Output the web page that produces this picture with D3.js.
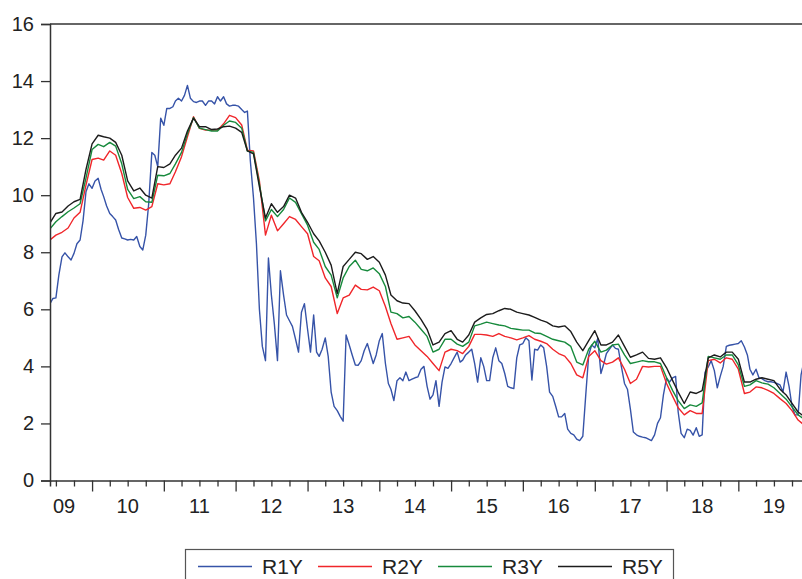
<!DOCTYPE html>
<html>
<head>
<meta charset="utf-8">
<script src="https://cdn.jsdelivr.net/npm/d3@7"></script>
<style>
  body { margin: 0; background: #fff; }
  svg { display: block; }
  text { font-family: "Liberation Sans", Arial, sans-serif; fill: #222; }
</style>
</head>
<body>
<svg id="chart" width="802" height="579"></svg>
<script>
// dates: monthly for R2Y/R3Y/R5Y, half-monthly for R1Y (starts June 2009)
var months = d3.range(127).map(function (i) { return new Date(2009, 5 + i, 1); });
var halfMonths = d3.range(253).map(function (j) { return new Date(2009, 5 + Math.floor(j / 2), j % 2 ? 16 : 1); });

var yearLabels = ["09", "10", "11", "12", "13", "14", "15", "16", "17", "18", "19"];
var yTicks = [0, 2, 4, 6, 8, 10, 12, 14, 16];
var seriesNames = ["R1Y", "R2Y", "R3Y", "R5Y"];

var r1y = [
  6.2, 6.38, 6.4, 7.2, 7.84, 7.98, 7.84, 7.73, 7.96, 8.3,
  8.43, 9.1, 10.12, 10.4, 10.24, 10.5, 10.59, 10.2, 9.95, 9.62,
  9.36, 9.25, 9.13, 8.8, 8.5, 8.47, 8.43, 8.45, 8.43, 8.55,
  8.2, 8.08, 8.6, 9.7, 11.5, 11.4, 11.0, 12.7, 12.45, 13.04,
  13.04, 13.1, 13.3, 13.4, 13.3, 13.5, 13.85, 13.4, 13.28, 13.25,
  13.3, 13.3, 13.15, 13.3, 13.3, 13.2, 13.45, 13.3, 13.45, 13.2,
  13.12, 13.15, 13.15, 13.12, 13.0, 12.9, 12.95, 11.2, 9.9, 8.3,
  6.0, 4.7, 4.2, 7.8, 6.5, 5.5, 4.2, 7.35, 6.5, 5.8,
  5.6, 5.4, 4.95, 4.5, 5.9, 6.2, 5.3, 4.5, 5.8, 4.5,
  4.35, 4.6, 5.0, 4.35, 3.1, 2.6, 2.45, 2.25, 2.08, 5.1,
  4.75, 4.4, 4.05, 4.04, 4.2, 4.55, 4.8, 4.45, 4.1, 4.4,
  4.9, 5.15, 4.1, 3.4, 3.2, 2.8, 3.5, 3.6, 3.5, 3.8,
  3.5, 3.55, 3.6, 3.63, 3.9, 4.0, 3.3, 2.85, 3.0, 3.5,
  2.6, 3.45, 3.98, 3.93, 4.1, 4.3, 4.5, 4.15, 4.22, 4.4,
  4.5, 4.6, 4.1, 3.45, 4.3, 4.0, 3.5, 3.5, 4.3, 4.65,
  4.2, 4.1, 3.75, 3.3, 3.25, 3.22, 4.3, 4.75, 4.8, 5.0,
  4.9, 3.52, 4.6, 4.57, 4.75, 4.65, 4.0, 3.1, 2.95, 2.6,
  2.23, 2.23, 2.35, 1.8, 1.65, 1.6, 1.45, 1.4, 1.55, 3.0,
  4.4, 4.75, 4.65, 4.98, 3.75, 4.1, 4.45, 4.6, 4.75, 4.63,
  4.6, 4.0, 3.4, 3.2, 2.5, 1.7, 1.6, 1.55, 1.52, 1.5,
  1.45, 1.4, 1.6, 2.0, 2.2, 3.0, 3.6, 3.45, 3.6, 3.65,
  2.4, 1.65, 1.5, 1.8, 1.76, 1.59, 1.85, 1.55, 1.6, 3.8,
  3.98, 4.2, 3.85, 3.25, 3.65, 4.0, 4.7, 4.74, 4.76, 4.78,
  4.8, 4.9, 4.68, 4.4, 3.9, 3.7, 3.9, 3.6, 3.57, 3.5,
  3.46, 3.46, 3.44, 3.4, 3.35, 3.1, 3.8, 3.3, 2.6, 2.3,
  2.3, 3.7, 4.2
];

var r2y = [
  8.43, 8.6, 8.7, 8.85, 9.2, 9.4, 10.35, 11.25, 11.3, 11.23,
  11.55, 11.4, 10.76, 9.92, 9.54, 9.57, 9.48, 9.6, 10.4, 10.36,
  10.4, 10.82, 11.35, 12.05, 12.75, 12.34, 12.28, 12.28, 12.28, 12.5,
  12.8, 12.72, 12.46, 11.58, 11.55, 10.5, 8.6, 9.3, 8.75, 9.0,
  9.25, 9.15, 8.9, 8.65, 7.85, 7.7, 7.1, 6.8, 5.85, 6.4,
  6.5, 6.85, 6.7, 6.68, 6.78, 6.65, 6.1, 5.5, 4.95, 5.0,
  5.05, 4.75, 4.55, 4.35, 4.1, 3.85, 4.5, 4.6, 4.55, 4.45,
  4.7, 5.12, 5.12, 5.1, 5.05, 5.15, 5.05, 5.0, 4.93, 5.0,
  5.08, 4.95, 4.88, 4.8, 4.6, 4.45, 4.36, 4.1, 3.7, 3.6,
  4.35, 4.55, 4.2, 4.08, 4.15, 4.3, 3.9, 3.4, 3.55, 4.0,
  3.98, 4.0, 4.0, 3.4, 2.95, 2.55, 2.3, 2.45, 2.35, 2.35,
  4.2, 4.25, 4.12, 4.3, 4.25, 3.9, 3.05, 3.1, 3.28, 3.25,
  3.16, 3.05, 2.87, 2.7, 2.45, 2.12, 1.95
];

var r3y = [
  8.82, 9.07, 9.25, 9.42, 9.55, 9.7, 10.6, 11.6, 11.78, 11.7,
  11.85, 11.72, 11.1, 10.2, 9.88, 9.95, 9.77, 9.75, 10.7, 10.68,
  10.76, 11.1, 11.5, 12.15, 12.72, 12.35, 12.3, 12.25, 12.25, 12.45,
  12.6, 12.55, 12.35, 11.55, 11.5, 10.4, 9.1, 9.5, 9.25, 9.5,
  9.9, 9.75, 9.35, 8.95, 8.35, 8.1, 7.5, 7.2, 6.4, 7.1,
  7.5, 7.72, 7.4, 7.35, 7.45, 7.25, 6.8, 5.9, 5.85, 5.7,
  5.75, 5.55, 5.3, 5.05, 4.5, 4.6, 4.95, 4.95, 4.78, 4.7,
  4.85, 5.42, 5.48, 5.55, 5.5, 5.45, 5.42, 5.33, 5.3, 5.27,
  5.27, 5.17, 5.15, 5.05, 4.95, 4.9, 4.85, 4.7, 4.15, 4.05,
  4.6, 4.88, 4.5, 4.57, 4.75, 4.78, 4.4, 4.1, 4.15, 4.2,
  4.16, 4.16, 4.1, 3.6, 3.15, 2.8, 2.52, 2.65, 2.6, 2.72,
  4.35, 4.3, 4.25, 4.4, 4.4, 4.05, 3.3, 3.35, 3.5, 3.42,
  3.38, 3.25, 3.05, 2.85, 2.58, 2.3, 2.15
];

var r5y = [
  9.03, 9.36, 9.41, 9.62, 9.77, 9.85, 10.9, 11.8, 12.1, 12.05,
  12.0, 11.85, 11.4, 10.5, 10.15, 10.25, 10.0, 9.9, 11.0, 10.97,
  11.1, 11.4, 11.65, 12.25, 12.7, 12.4, 12.4, 12.3, 12.32, 12.4,
  12.42, 12.35, 12.2, 11.55, 11.45, 10.3, 9.2, 9.7, 9.4, 9.6,
  10.0, 9.9, 9.4, 9.05, 8.65, 8.4, 8.0, 7.55, 6.55, 7.5,
  7.75, 8.0, 7.95, 7.75, 7.85, 7.65, 7.2, 6.5, 6.3, 6.22,
  6.2, 5.95, 5.65, 5.3, 4.75, 4.85, 5.15, 5.25, 4.95, 4.85,
  5.1, 5.55, 5.7, 5.82, 5.85, 5.95, 6.03, 6.0, 5.9, 5.85,
  5.8, 5.72, 5.62, 5.55, 5.42, 5.38, 5.42, 5.22, 4.85, 4.55,
  4.9, 5.25, 4.75, 4.75, 4.85, 5.1, 4.7, 4.32, 4.4, 4.5,
  4.28, 4.25, 4.3, 3.95, 3.5, 3.1, 2.7, 3.1, 3.05, 3.15,
  4.3, 4.4, 4.33, 4.5, 4.5, 4.25, 3.45, 3.45, 3.55, 3.6,
  3.55, 3.5, 3.2, 3.0, 2.7, 2.4, 2.25
];

var colors = ["#3653a8", "#f0262a", "#178a3c", "#1c1c1c"];

var svg = d3.select("#chart");
var plotLeft = 50, plotTop = 24, plotRight = 804, plotBottom = 480.5;

var x = d3.scaleTime()
  .domain([new Date(2009, 5, 1), new Date(2019, 11, 1)])
  .range([plotLeft, plotRight]);
var y = d3.scaleLinear()
  .domain([0, 16])
  .range([plotBottom, plotTop]);

svg.append("clipPath").attr("id", "plotclip")
  .append("rect")
  .attr("x", plotLeft).attr("y", plotTop - 2)
  .attr("width", plotRight - plotLeft).attr("height", plotBottom - plotTop + 2);

// series
var data = [
  { name: "R1Y", dates: halfMonths, values: r1y },
  { name: "R2Y", dates: months, values: r2y },
  { name: "R3Y", dates: months, values: r3y },
  { name: "R5Y", dates: months, values: r5y }
];

var lines = svg.append("g").attr("clip-path", "url(#plotclip)");
data.forEach(function (s, k) {
  var line = d3.line()
    .x(function (d, i) { return x(s.dates[i]); })
    .y(function (d) { return y(d); });
  lines.append("path")
    .datum(s.values)
    .attr("fill", "none")
    .attr("stroke", colors[k])
    .attr("stroke-width", 1.4)
    .attr("stroke-linejoin", "round")
    .attr("d", line);
});

// frame top
svg.append("line")
  .attr("x1", plotLeft).attr("x2", 802)
  .attr("y1", plotTop).attr("y2", plotTop)
  .attr("stroke", "#333").attr("stroke-width", 1.5);

// y axis
var yAxis = svg.append("g")
  .attr("transform", "translate(" + plotLeft + ",0)")
  .call(d3.axisLeft(y).tickValues(yTicks).tickSize(9).tickPadding(7).tickFormat(d3.format("d")));
yAxis.select(".domain").attr("stroke", "#333").attr("stroke-width", 1.5);
yAxis.selectAll(".tick line").attr("stroke", "#333").attr("stroke-width", 1.3);
yAxis.selectAll(".tick text")
  .attr("font-size", 20).attr("fill", "#222")
  .style("font-family", "'Liberation Sans', Arial, sans-serif");

// x axis with quarterly ticks, long ticks at year start
var quarters = d3.timeMonth.every(3).range(new Date(2009, 5, 2), new Date(2019, 11, 1));
var xAxis = svg.append("g")
  .attr("transform", "translate(0," + plotBottom + ")")
  .call(d3.axisBottom(x).tickValues(quarters).tickSize(6).tickFormat(""));
xAxis.select(".domain").attr("stroke", "#333").attr("stroke-width", 1.5);
xAxis.selectAll(".tick line")
  .attr("stroke", "#333").attr("stroke-width", 1.3)
  .attr("y2", function (d) { return d.getMonth() === 0 ? 11 : 6; });

// year labels at mid-year (first one kept inside the plot)
svg.append("g").selectAll("text")
  .data(yearLabels)
  .enter().append("text")
  .attr("x", function (d, i) {
    var mid = x(new Date(2009 + i, 6, 1));
    return Math.max(mid, plotLeft + 14);
  })
  .attr("y", plotBottom + 32)
  .attr("text-anchor", "middle")
  .attr("font-size", 20)
  .text(function (d) { return d; });

// legend
var legend = svg.append("g");
legend.append("rect")
  .attr("x", 185.5).attr("y", 549.5)
  .attr("width", 488).attr("height", 40)
  .attr("fill", "none").attr("stroke", "#555").attr("stroke-width", 1.2);
var legendX = d3.scalePoint().domain(seriesNames).range([198, 558]);
seriesNames.forEach(function (name, k) {
  var lx = legendX(name);
  legend.append("line")
    .attr("x1", lx).attr("x2", lx + 54)
    .attr("y1", 566.5).attr("y2", 566.5)
    .attr("stroke", colors[k]).attr("stroke-width", 1.3);
  legend.append("text")
    .attr("x", lx + 64).attr("y", 574)
    .attr("font-size", 21)
    .text(name);
});
</script>
</body>
</html>
